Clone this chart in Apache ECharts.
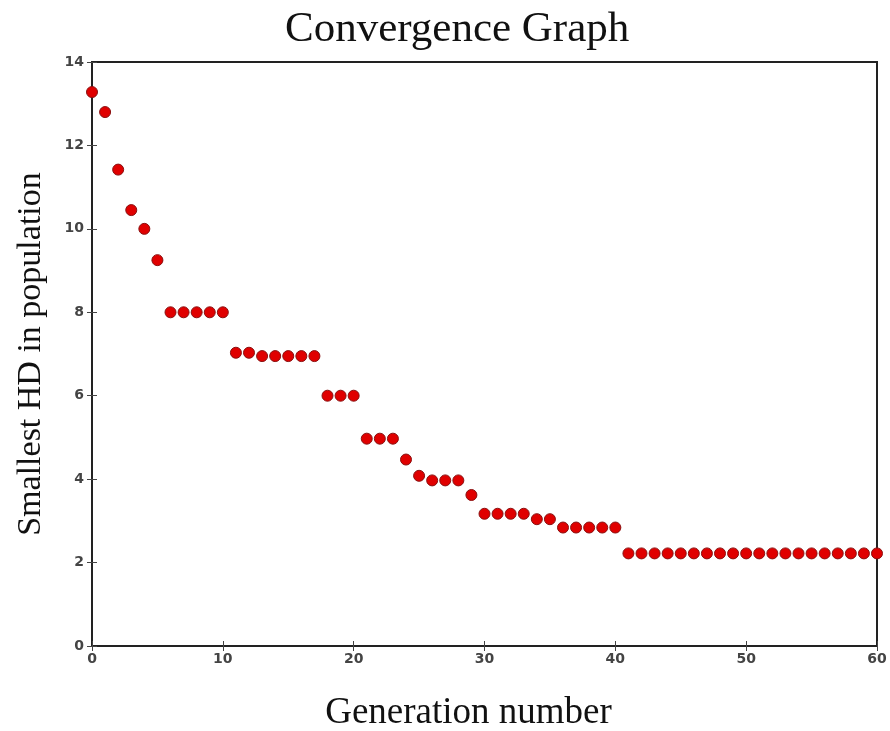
<!DOCTYPE html>
<html>
<head>
<meta charset="utf-8">
<script src="https://cdn.jsdelivr.net/npm/echarts@6/dist/echarts.min.js"></script>
<style>
  html, body { margin: 0; padding: 0; background: #fff; }
  #chart { width: 890px; height: 731px; }
</style>
</head>
<body>
<div id="chart"></div>
<script>
// generation index and the smallest HD found in that generation
const generations = [
  0, 1, 2, 3, 4, 5, 6, 7, 8, 9, 10, 11, 12, 13, 14, 15, 16, 17, 18, 19, 20,
  21, 22, 23, 24, 25, 26, 27, 28, 29, 30, 31, 32, 33, 34, 35, 36, 37, 38, 39, 40,
  41, 42, 43, 44, 45, 46, 47, 48, 49, 50, 51, 52, 53, 54, 55, 56, 57, 58, 59, 60
];
const smallestHD = [
  13.28, 12.8, 11.42, 10.45, 10.0, 9.25, 8.0, 8.0, 8.0, 8.0, 8.0, 7.03, 7.03, 6.95, 6.95, 6.95, 6.95, 6.95, 6.0, 6.0, 6.0,
  4.97, 4.97, 4.97, 4.47, 4.08, 3.97, 3.97, 3.97, 3.62, 3.17, 3.17, 3.17, 3.17, 3.04, 3.04, 2.84, 2.84, 2.84, 2.84, 2.84,
  2.22, 2.22, 2.22, 2.22, 2.22, 2.22, 2.22, 2.22, 2.22, 2.22, 2.22, 2.22, 2.22, 2.22, 2.22, 2.22, 2.22, 2.22, 2.22, 2.22
];
const xTicks = { min: 0, max: 60, interval: 10 };
const yTicks = { min: 0, max: 14, interval: 2 };

const chart = echarts.init(document.getElementById('chart'));

const tickLabel = {
  color: '#444',
  fontFamily: 'DejaVu Sans',
  fontWeight: 'bold',
  fontSize: 14
};
const innerTick = { inside: true, length: 5, lineStyle: { color: '#444' } };

chart.setOption({
  animation: false,
  title: {
    text: 'Convergence Graph',
    left: 280,
    top: 3,
    textStyle: {
      fontFamily: 'Liberation Serif',
      fontWeight: 'normal',
      fontSize: 43,
      color: '#111'
    }
  },
  grid: {
    left: 92, right: 13, top: 62, bottom: 85,
    outerBoundsMode: 'none',
    containLabel: false,
    show: true,
    borderColor: '#222',
    borderWidth: 2,
    backgroundColor: '#fff'
  },
  xAxis: [{
    type: 'value',
    min: xTicks.min, max: xTicks.max, interval: xTicks.interval,
    name: 'Generation number',
    nameLocation: 'middle',
    nameGap: 49,
    nameTextStyle: { fontFamily: 'Liberation Serif', fontSize: 37, color: '#111', padding: [0, 32, 0, 0] },
    axisLine: { show: false },
    axisTick: innerTick,
    axisLabel: Object.assign({ margin: 6 }, tickLabel),
    splitLine: { show: false }
  }, {
    type: 'value',
    position: 'top',
    min: xTicks.min, max: xTicks.max, interval: xTicks.interval,
    axisLine: { show: false },
    axisTick: innerTick,
    axisLabel: { show: false },
    splitLine: { show: false }
  }],
  yAxis: [{
    type: 'value',
    min: yTicks.min, max: yTicks.max, interval: yTicks.interval,
    name: 'Smallest HD in population',
    nameLocation: 'middle',
    nameGap: 44,
    nameTextStyle: { fontFamily: 'Liberation Serif', fontSize: 34, color: '#111' },
    axisLine: { show: false },
    axisTick: innerTick,
    axisLabel: Object.assign({ margin: 8 }, tickLabel),
    splitLine: { show: false }
  }, {
    type: 'value',
    position: 'right',
    min: yTicks.min, max: yTicks.max, interval: yTicks.interval,
    axisLine: { show: false },
    axisTick: innerTick,
    axisLabel: { show: false },
    splitLine: { show: false }
  }],
  series: [{
    type: 'scatter',
    data: generations.map((g, i) => [g, smallestHD[i]]),
    symbol: 'circle',
    symbolSize: 11,
    clip: false,
    itemStyle: {
      color: '#e00000',
      opacity: 1,
      borderColor: '#8a1010',
      borderWidth: 1
    }
  }]
});
</script>
</body>
</html>
